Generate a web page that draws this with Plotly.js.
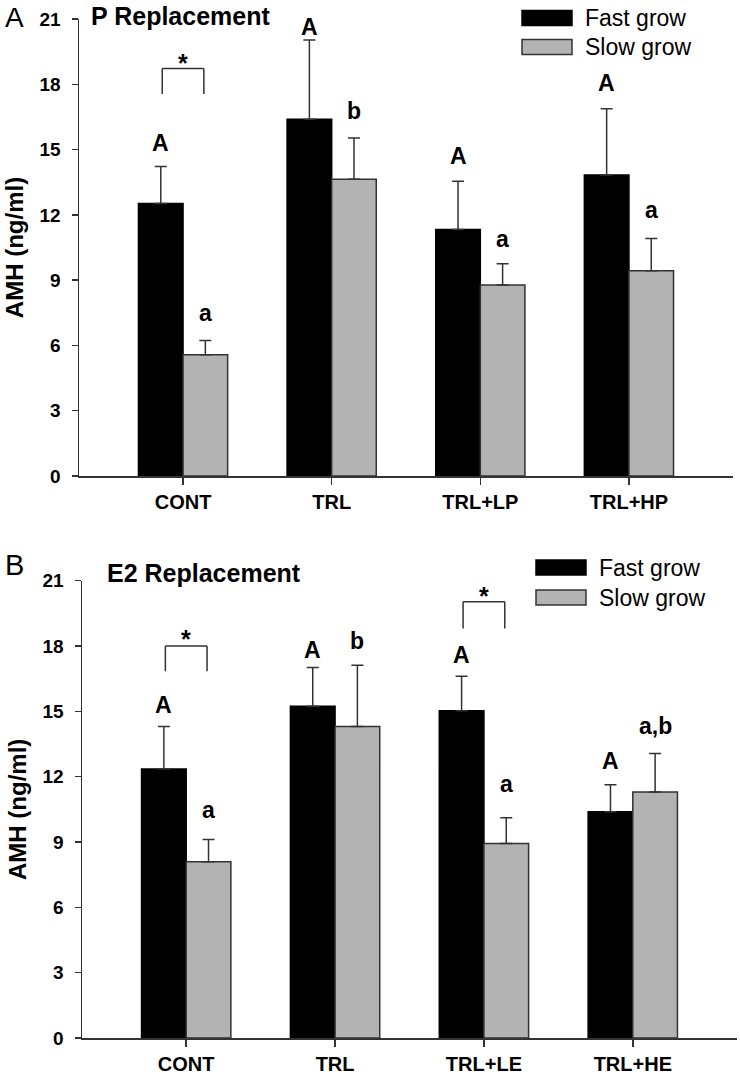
<!DOCTYPE html>
<html>
<head>
<meta charset="utf-8">
<script src="https://cdn.plot.ly/plotly-3.0.1.min.js"></script>
<style>html,body{margin:0;padding:0;background:#fff}#chart{width:740px;height:1075px}</style>
</head>
<body>
<div id="chart"></div>
<script>
// ---------------- data ----------------
var seriesNames = ['Fast grow', 'Slow grow'];
var yTickVals = [0, 3, 6, 9, 12, 15, 18, 21];

// Panel A: P Replacement
var panelTitleA = 'P Replacement';
var categoriesA = ['CONT', 'TRL', 'TRL+LP', 'TRL+HP'];
var fastA = [12.52, 16.39, 11.33, 13.83];
var fastErrA = [1.70, 3.64, 2.21, 3.05];
var slowA = [5.57, 13.64, 8.78, 9.43];
var slowErrA = [0.66, 1.89, 0.97, 1.48];
var lettersFastA = ['A', 'A', 'A', 'A'];
var lettersSlowA = ['a', 'b', 'a', 'a'];
var letterYFastA = [15.31, 20.65, 14.69, 18.04];
var letterYSlowA = [7.48, 16.77, 10.9, 12.2];
var bracketCatA = [0];
var bracketTopA = [18.73];
var bracketBottomA = [17.55];
var starYA = [18.98];

// Panel B: E2 Replacement
var panelTitleB = 'E2 Replacement';
var categoriesB = ['CONT', 'TRL', 'TRL+LE', 'TRL+HE'];
var fastB = [12.35, 15.23, 15.03, 10.39];
var fastErrB = [1.95, 1.78, 1.58, 1.24];
var slowB = [8.09, 14.30, 8.93, 11.30];
var slowErrB = [1.03, 2.82, 1.18, 1.77];
var lettersFastB = ['A', 'A', 'A', 'A'];
var lettersSlowB = ['a', 'b', 'a', 'a,b'];
var letterYFastB = [15.27, 17.84, 17.61, 12.7];
var letterYSlowB = [10.45, 18.22, 11.65, 14.32];
var bracketCatB = [0, 2];
var bracketTopB = [18.0, 20.03];
var bracketBottomB = [16.84, 18.8];
var starYB = [18.34, 20.3];

// ---------------- styles ----------------
var FONT = 'Arial, "Liberation Sans", Helvetica, sans-serif';
var AX = '#333333';
var FAST_COLOR = '#000000';
var SLOW_COLOR = '#b3b3b3';
var zeros = [0, 0, 0, 0];

function barTrace(cats, vals, errs, name, color, xa, ya) {
  return {
    type: 'bar', x: cats, y: vals, name: name, xaxis: xa, yaxis: ya,
    marker: {color: color, line: {color: color === FAST_COLOR ? '#000' : '#333', width: 1.5}},
    error_y: {type: 'data', symmetric: false, array: errs, arrayminus: zeros,
              color: AX, thickness: 1.5, width: 6},
    showlegend: false, hoverinfo: 'skip'
  };
}

var data = [
  barTrace(categoriesA, fastA, fastErrA, seriesNames[0], FAST_COLOR, 'x', 'y'),
  barTrace(categoriesA, slowA, slowErrA, seriesNames[1], SLOW_COLOR, 'x', 'y'),
  barTrace(categoriesB, fastB, fastErrB, seriesNames[0], FAST_COLOR, 'x2', 'y2'),
  barTrace(categoriesB, slowB, slowErrB, seriesNames[1], SLOW_COLOR, 'x2', 'y2')
];

function xAxis(domain, anchor) {
  return {
    domain: domain, anchor: anchor, type: 'category', range: [-0.7, 3.7],
    showline: true, linecolor: AX, linewidth: 1.5, showgrid: false, zeroline: false,
    ticks: 'outside', ticklen: 7, tickwidth: 1.5, tickcolor: AX, ticklabelstandoff: 0,
    tickfont: {family: FONT, size: 20, color: '#000', weight: 'bold'},
    fixedrange: true, automargin: false
  };
}
function yAxis(domain, anchor) {
  return {
    domain: domain, anchor: anchor, range: [0, 21], tickvals: yTickVals,
    showline: true, linecolor: AX, linewidth: 1.5, showgrid: false, zeroline: false,
    ticks: 'outside', ticklen: 6, tickwidth: 1.5, tickcolor: AX, ticklabelstandoff: 7,
    tickfont: {family: FONT, size: 19, color: '#000', weight: 'bold'},
    title: {text: 'AMH (ng/ml)', standoff: 9, font: {family: FONT, size: 24, color: '#000', weight: 'bold'}},
    fixedrange: true, automargin: false
  };
}

var annotations = [];
var shapes = [];

function addLetters(xref, yref, letters, ys, offset) {
  for (var i = 0; i < letters.length; i++) {
    annotations.push({xref: xref, yref: yref, x: i + offset, y: ys[i], text: letters[i],
      showarrow: false, xanchor: 'center', yanchor: 'middle',
      font: {family: FONT, size: 23, color: '#000', weight: 'bold'}});
  }
}
function addBrackets(xref, yref, cats, tops, bottoms, stars) {
  for (var i = 0; i < cats.length; i++) {
    var x0 = cats[i] - 0.14, x1 = cats[i] + 0.14;
    var ln = {color: AX, width: 1.5};
    shapes.push({type: 'line', xref: xref, yref: yref, x0: x0, x1: x1, y0: tops[i], y1: tops[i], line: ln});
    shapes.push({type: 'line', xref: xref, yref: yref, x0: x0, x1: x0, y0: bottoms[i], y1: tops[i], line: ln});
    shapes.push({type: 'line', xref: xref, yref: yref, x0: x1, x1: x1, y0: bottoms[i], y1: tops[i], line: ln});
    annotations.push({xref: xref, yref: yref, x: cats[i], y: stars[i], text: '*', showarrow: false,
      xanchor: 'center', yanchor: 'middle', font: {family: FONT, size: 25, color: '#000', weight: 'bold'}});
  }
}

addLetters('x', 'y', lettersFastA, letterYFastA, -0.15);
addLetters('x', 'y', lettersSlowA, letterYSlowA, 0.15);
addLetters('x2', 'y2', lettersFastB, letterYFastB, -0.15);
addLetters('x2', 'y2', lettersSlowB, letterYSlowB, 0.15);
addBrackets('x', 'y', bracketCatA, bracketTopA, bracketBottomA, starYA);
addBrackets('x2', 'y2', bracketCatB, bracketTopB, bracketBottomB, starYB);

// pixel helpers for paper positioning (margins are zero)
var W = 740, H = 1075;
function px(x) { return x / W; }
function py(y) { return 1 - y / H; }

// panel labels and titles
annotations.push({xref: 'paper', yref: 'paper', x: px(14), y: py(0.5), text: 'A', showarrow: false,
  xanchor: 'center', yanchor: 'top', font: {family: FONT, size: 28, color: '#000'}});
annotations.push({xref: 'paper', yref: 'paper', x: px(14), y: py(565), text: 'B', showarrow: false,
  xanchor: 'center', yanchor: 'middle', font: {family: FONT, size: 29, color: '#000'}});
annotations.push({xref: 'paper', yref: 'paper', x: px(89), y: py(0.5), text: panelTitleA, showarrow: false,
  xanchor: 'left', yanchor: 'top', font: {family: FONT, size: 25, color: '#000', weight: 'bold'}});
annotations.push({xref: 'paper', yref: 'paper', x: px(105), y: py(573), text: panelTitleB, showarrow: false,
  xanchor: 'left', yanchor: 'middle', font: {family: FONT, size: 25, color: '#000', weight: 'bold'}});

// legends (drawn boxes + text)
function addLegend(x0, x1, yFast, ySlow, textX) {
  var rows = [[yFast, FAST_COLOR, '#000', seriesNames[0]], [ySlow, SLOW_COLOR, '#333', seriesNames[1]]];
  rows.forEach(function (r) {
    shapes.push({type: 'rect', xref: 'paper', yref: 'paper', x0: px(x0), x1: px(x1),
      y0: py(r[0] - 7.5), y1: py(r[0] + 7.5), fillcolor: r[1], line: {color: r[2], width: 1.5}});
    annotations.push({xref: 'paper', yref: 'paper', x: px(textX), y: py(r[0]), text: r[3], showarrow: false,
      xanchor: 'left', yanchor: 'middle', font: {family: FONT, size: 23, color: '#000'}});
  });
}
addLegend(522, 572, 18, 47, 583);
addLegend(536, 586, 567.5, 597.5, 597);

var layout = {
  width: W, height: H,
  margin: {l: 0, r: 0, t: 0, b: 0, pad: 0},
  paper_bgcolor: '#fff', plot_bgcolor: '#fff',
  barmode: 'group', bargap: 0.4, bargroupgap: 0,
  showlegend: false,
  xaxis: xAxis([px(79), px(733)], 'y'),
  yaxis: yAxis([py(476), py(19)], 'x'),
  xaxis2: xAxis([px(82), px(737)], 'y2'),
  yaxis2: yAxis([py(1038), py(580.7)], 'x2'),
  annotations: annotations,
  shapes: shapes,
  font: {family: FONT, color: '#000'}
};

Plotly.newPlot('chart', data, layout, {displayModeBar: false, staticPlot: true});
</script>
</body>
</html>
